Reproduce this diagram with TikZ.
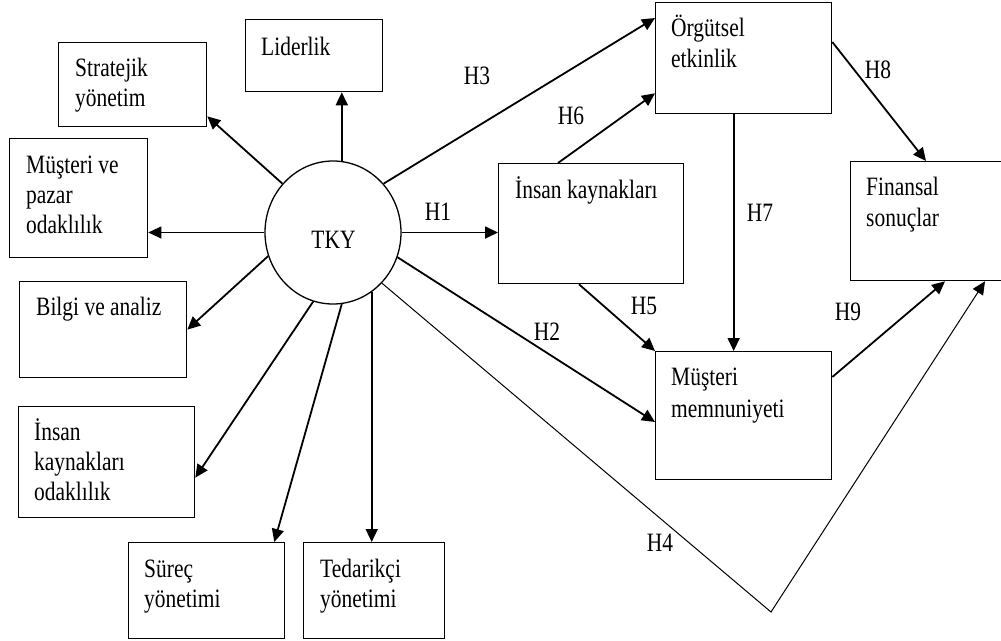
\documentclass[tikz,border=0pt]{standalone}
\usepackage{fontspec}
\setmainfont{Liberation Serif}[FakeStretch=0.81]
\usetikzlibrary{arrows.meta,shapes.geometric,calc}
\begin{document}
\begin{tikzpicture}[x=1pt,y=-1pt,
  box/.style={draw, line width=1.3pt, rectangle, inner sep=0pt, anchor=north west},
  txt/.style={anchor=base west, inner sep=0pt, align=left, font=\fontsize{26.5}{30}\selectfont},
  hl/.style={inner sep=0pt, font=\fontsize{26.5}{30}\selectfont},
  arr/.style={line width=1.8pt, -{Triangle[length=13pt,width=12pt]}},
  thinarr/.style={line width=1pt, -{Triangle[length=13pt,width=12pt]}},
]
\useasboundingbox (0,0) rectangle (1001,640);

% circle
\node[ellipse, draw, line width=1.3pt, inner sep=0pt, minimum width=136pt, minimum height=143pt] (tky) at (333,232.5) {};
\node[hl, anchor=base] (tkyT) at (333.5,248) {TKY};

% left boxes (text anchored at baseline of last line)
\node[box, minimum width=137pt, minimum height=72pt] (lid) at (245,19) {};
\node[txt] (lidT) at (261,55) {Liderlik};
\node[box, minimum width=148pt, minimum height=84pt] (str) at (58,42) {};
\node[txt] (strT) at (75,106) {Stratejik\\yönetim};
\node[box, minimum width=138pt, minimum height=119pt] (mus) at (9,138) {};
\node[txt] (musT) at (26,233) {Müşteri ve\\pazar\\odaklılık};
\node[box, minimum width=167pt, minimum height=96pt] (bil) at (19,281) {};
\node[txt] (bilT) at (36,315) {Bilgi ve analiz};
\node[box, minimum width=176pt, minimum height=111pt] (ikO) at (18,406) {};
\node[txt] (ikOT) at (34,500) {İnsan\\kaynakları\\odaklılık};
\node[box, minimum width=156pt, minimum height=96pt] (sur) at (128,542) {};
\node[txt] (surT) at (144,607) {Süreç\\yönetimi};
\node[box, minimum width=141pt, minimum height=96pt] (ted) at (303,542) {};
\node[txt] (tedT) at (320,607) {Tedarikçi\\yönetimi};

% right boxes
\node[box, minimum width=176pt, minimum height=111pt] (org) at (655,2) {};
\node[txt, font=\fontsize{26.5}{31}\selectfont] (orgT) at (671,67) {Örgütsel\\etkinlik};
\node[box, minimum width=185pt, minimum height=120pt] (ik) at (498,163) {};
\node[txt] (ikT) at (515,198) {İnsan kaynakları};
\node[box, minimum width=170pt, minimum height=119pt] (fin) at (850,161) {};
\node[txt, font=\fontsize{26.5}{31}\selectfont] (finT) at (866,226) {Finansal\\sonuçlar};
\node[box, minimum width=176pt, minimum height=128pt] (mm) at (655,351) {};
\node[txt, font=\fontsize{26.5}{32}\selectfont] (mmT) at (671,417) {Müşteri\\memnuniyeti};

% arrows from TKY to dimensions
\draw[arr] (tky.83) -- (tky.83 |- lid.south);
\draw[arr] (tky.136) -- ([yshift=11pt]str.south east);
\draw[thinarr] (tky.west) -- (tky.west -| mus.east);
\draw[arr] (tky.200) -- (bil.east);
\draw[arr] (tky.254) -- ([yshift=-15.5pt]ikO.east);
\draw[arr] (tky.277) -- ([xshift=-11pt]sur.north east);
\draw[arr] (tky.-57) -- (tky.-57 |- ted.north);

% hypotheses
\draw[arr] (tky.east) -- (tky.east -| ik.west);
\draw[arr] (tky.44) -- ([yshift=-16pt]org.north west);
\draw[arr] ([xshift=60pt]ik.north west) -- ([yshift=21pt]org.south west);
\draw[arr] (tky.-21) -- ([yshift=-71pt]mm.north west);
\draw[arr] ([xshift=81pt]ik.south west) -- (mm.north west);
\draw[arr] ([xshift=-10pt]org.south) -- ([xshift=-10pt]org.south |- mm.north);
\draw[arr] ([yshift=-40pt]org.north east) -- ([xshift=76pt]fin.north west);
\draw[arr] ([yshift=-26pt]mm.north east) -- ([xshift=95pt]fin.south west);
\coordinate (v) at (771,612);
\draw[thinarr] (tky.-46) -- (v) -- ([xshift=135pt]fin.south west);

% labels
\node[hl] (h1) at (438,212) {H1};
\node[hl] (h2) at (547,332) {H2};
\node[hl] (h3) at (477,76) {H3};
\node[hl] (h4) at (660,543) {H4};
\node[hl] (h5) at (644,306) {H5};
\node[hl] (h6) at (571,116) {H6};
\node[hl] (h7) at (760,213) {H7};
\node[hl] (h8) at (878,70) {H8};
\node[hl] (h9) at (848,312) {H9};
\end{tikzpicture}
\end{document}
